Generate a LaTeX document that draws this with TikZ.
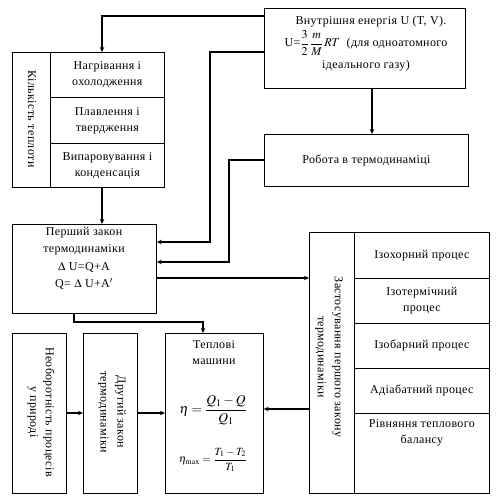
\documentclass[tikz,border=0pt]{standalone}
\usepackage{mathptmx}
\usepackage{fontspec}
\setmainfont[LetterSpace=3]{Liberation Serif}
\usetikzlibrary{calc,arrows.meta}
\begin{document}
\begin{tikzpicture}[x=1pt,y=-1pt,
  box/.style={draw, line width=0.7pt, inner sep=0pt, anchor=north west},
  txt/.style={font=\fontsize{12}{16}\selectfont, align=center, inner sep=0pt},
  conn/.style={line width=1.1pt, -{Stealth[length=5pt,width=4.5pt]}}]
\useasboundingbox (0,0) rectangle (500,503);
% Heat quantity block
\node[box, minimum width=38, minimum height=135] (heat) at (12,52) {};
\node[box, minimum width=114, minimum height=45] (h1) at (50,52) {};
\node[box, minimum width=114, minimum height=46] (h2) at (50,97) {};
\node[box, minimum width=114, minimum height=44] (h3) at (50,143) {};
\node[txt, rotate=-90] (heatT) at (32,119) {Кількість теплоти};
\node[txt] (h1T) at (h1.center) {Нагрівання і\\охолодження};
\node[txt] (h2T) at (h2.center) {Плавлення і\\твердження};
\node[txt] (h3T) at (h3.center) {Випаровування і\\конденсація};
% Internal energy
\node[box, minimum width=201, minimum height=80] (U) at (264,8) {};
\node[txt] (U1) at (371,22) {Внутрішня енергія U (T, V).};
\node[txt] (U2) at (366,43) {U=$\displaystyle\frac{3}{2}\,\frac{m}{M}\,RT$\ \ (для одноатомного};
\node[txt] (U3) at (366,66) {ідеального газу)};
% Work
\node[box, minimum width=204, minimum height=52] (W) at (264,134) {};
\node[txt] (WT) at (W.center) {Робота в термодинаміці};
% First law
\node[box, minimum width=144, minimum height=89] (F) at (12,224) {};
\node[txt, anchor=north, font=\fontsize{12}{17.5}\selectfont] (FT) at (84,227) {Перший закон\\термодинаміки\\$\Delta$ U=Q+A\\Q= $\Delta$ U+A$'$};
% Application of first law
\node[box, minimum width=45, minimum height=261] (Z) at (309,232) {};
\node[box, minimum width=135, minimum height=46] (z1) at (354,232) {};
\node[box, minimum width=135, minimum height=45] (z2) at (354,278) {};
\node[box, minimum width=135, minimum height=45] (z3) at (354,323) {};
\node[box, minimum width=135, minimum height=45] (z4) at (354,368) {};
\node[box, minimum width=135, minimum height=80] (z5) at (354,413) {};
\node[txt, rotate=-90, font=\fontsize{12}{17}\selectfont] (ZT) at (329,357) {Застосування першого закону\\термодинаміки};
\node[txt] (z1T) at (z1.center) {Ізохорний процес};
\node[txt] (z2T) at (z2.center) {Ізотермічний\\процес};
\node[txt] (z3T) at (z3.center) {Ізобарний процес};
\node[txt] (z4T) at (z4.center) {Адіабатний процес};
\node[txt, anchor=north] (z5T) at ($(z5.north)+(0,6)$) {Рівняння теплового\\балансу};
% Bottom row
\node[box, minimum width=54, minimum height=160] (N) at (12,333) {};
\node[box, minimum width=54, minimum height=160] (D) at (83,333) {};
\node[box, minimum width=98, minimum height=160] (T) at (165,333) {};
\node[txt, rotate=-90] (NT) at (41,412) {Необоротність процесів\\у природі};
\node[txt, rotate=-90, font=\fontsize{12}{17}\selectfont] (DT) at (112,412) {Другий закон\\термодинаміки};
\node[txt] (TT) at (214,353) {Теплові\\машини};
\node[txt, font=\fontsize{13.5}{16}\selectfont] (eta) at (213,410) {$\eta=\displaystyle\frac{Q_1-Q}{Q_1}$};
\node[txt, font=\fontsize{11}{13}\selectfont] (etamax) at (213,460) {$\eta_{\max}=\displaystyle\frac{T_1-T_2}{T_1}$};
% Connectors
\draw[conn] ($(U.north west)+(0,8)$) -| ($(h1.north west)+(52,0)$);
\draw[conn] ($(h3.south west)+(52,0)$) -- ($(F.north west)+(90,0)$);
\draw[conn, line width=1.5pt] ($(U.south west)+(108,0)$) -- ($(W.north west)+(108,0)$);
\draw[conn] ($(W.north west)+(0,26)$) -| (229,262) -- ($(F.north east)+(0,38)$);
\draw[conn] ($(U.north west)+(0,44)$) -| (210,242) -- ($(F.north east)+(0,18)$);
\draw[conn, line width=1.4pt] ($(F.north east)+(0,54)$) -- ($(Z.north west)+(0,46)$);
\draw[conn] ($(F.south west)+(62,0)$) |- (203,322) -- ($(T.north west)+(38,0)$);
\draw[conn, line width=1.4pt] ($(N.north east)+(0,80)$) -- ($(D.north west)+(0,80)$);
\draw[conn, line width=1.4pt] ($(D.north east)+(0,80)$) -- ($(T.north west)+(0,80)$);
\draw[conn] ($(Z.north west)+(0,177)$) -- ($(T.north east)+(0,76)$);
\end{tikzpicture}
\end{document}
